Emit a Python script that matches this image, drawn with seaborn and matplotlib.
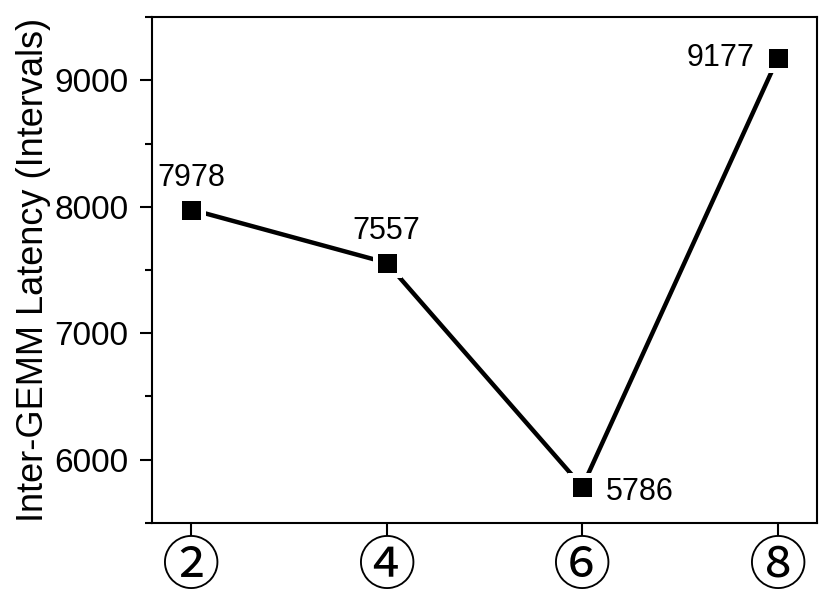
import numpy as np
import pandas as pd
import matplotlib
matplotlib.use('Agg')
import matplotlib.pyplot as plt
import seaborn as sns
from matplotlib.ticker import MultipleLocator

# datos
etapas = ['②', '④', '⑥', '⑧']
latencia = [7978, 7557, 5786, 9177]
etiquetas = ['7978', '7557', '5786', '9177']

df = pd.DataFrame({'Etapa': etapas, 'Latencia': latencia})

sns.set_style('ticks')
plt.rcParams['font.family'] = ['Liberation Sans', 'DejaVu Sans']
plt.rcParams['text.color'] = 'black'
plt.rcParams['axes.labelcolor'] = 'black'
plt.rcParams['xtick.color'] = 'black'
plt.rcParams['ytick.color'] = 'black'

fig = plt.figure(figsize=(8.31, 6.01), dpi=100)
ax = fig.add_axes([0.1829, 0.1298, 0.8003, 0.8419])

sns.pointplot(data=df, x='Etapa', y='Latencia', color='black', markers='s',
              linestyles='-', errorbar=None, ax=ax,
              markersize=17, linewidth=3.2, markeredgecolor='white', markeredgewidth=3.6)

# etiquetas de valores
offsets = [((0, 12), 'center', 'bottom'), ((0, 12), 'center', 'bottom'),
           ((17, -4), 'left', 'center'), ((-17, 0), 'right', 'center')]
for i, (v, t) in enumerate(zip(latencia, etiquetas)):
    off, ha, va = offsets[i]
    ax.annotate(t, (i, v), xytext=off, textcoords='offset points',
                ha=ha, va=va, fontsize=22, color='black')

ax.set_xlim(-0.2, 3.2)
ax.set_ylim(5500, 9500)
ax.yaxis.set_major_locator(MultipleLocator(1000))
ax.yaxis.set_minor_locator(MultipleLocator(500))
ax.set_yticks([6000, 7000, 8000, 9000])

ax.set_xlabel('')
ax.set_ylabel('Inter-GEMM Latency (Intervals)', fontsize=26, labelpad=2)

for s in ax.spines.values():
    s.set_linewidth(1.5)
    s.set_color('black')

ax.tick_params(axis='y', which='major', length=9, width=1.5, labelsize=24, pad=8, direction='out')
ax.tick_params(axis='y', which='minor', length=5, width=1.5, direction='out')
ax.tick_params(axis='x', which='major', length=9, width=1.5, pad=1, direction='out')
ax.tick_params(axis='x', which='minor', length=0)
for lab in ax.get_xticklabels():
    lab.set_family(['Noto Sans CJK JP', 'DejaVu Sans'])
    lab.set_fontsize(42)

fig.savefig('out.png', dpi=100)
